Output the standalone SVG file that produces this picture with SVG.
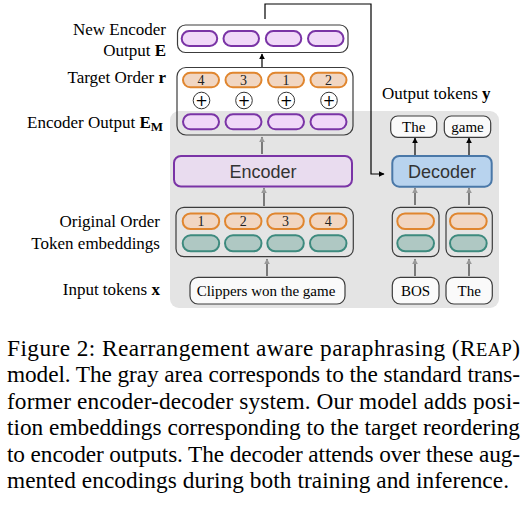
<svg xmlns="http://www.w3.org/2000/svg" width="526" height="506" viewBox="0 0 526 506">
<style>
.lbl{font-family:"Liberation Serif","Times New Roman",serif;font-size:17px;fill:#000}
.cap{font-family:"Liberation Serif","Times New Roman",serif;font-size:23.3px;fill:#000}
.tok{font-family:"Liberation Serif","Times New Roman",serif;font-size:15px;fill:#000;text-anchor:middle}
.num{font-family:"Liberation Serif","Times New Roman",serif;font-size:14px;fill:#222;text-anchor:middle}
.pl{font-family:"DejaVu Sans",sans-serif;font-size:15px;fill:#000;text-anchor:middle}
.blk{font-family:"Liberation Sans",Arial,sans-serif;font-size:18px;fill:#333;text-anchor:middle}
.cont{fill:none;stroke:#3c3c3c;stroke-width:1.2}
.tbox{fill:#fafafa;stroke:#3c3c3c;stroke-width:1.2}
.pur{fill:#f0d8f8;stroke:#7a34a6;stroke-width:2}
.ora{fill:#f1d6c2;stroke:#e0862f;stroke-width:2}
.tea{fill:#afc8c3;stroke:#3d8a7e;stroke-width:2}
.plus{fill:#fff;stroke:#333;stroke-width:1}
.ab{stroke:#000;stroke-width:1.2;fill:none;marker-end:url(#hb)}
.ag{stroke:#333;stroke-width:1.2;fill:none;marker-end:url(#hg)}
</style>
<defs>
<marker id="hb" viewBox="0 0 10 10" refX="9" refY="5" markerWidth="6" markerHeight="6" markerUnits="userSpaceOnUse" orient="auto"><path d="M0,0 L10,5 L0,10 z" fill="#000"/></marker>
<marker id="hg" viewBox="0 0 10 10" refX="9" refY="5" markerWidth="6" markerHeight="6" markerUnits="userSpaceOnUse" orient="auto"><path d="M0,0 L10,5 L0,10 z" fill="#999"/></marker>
</defs>

<rect id="gray-area" x="170" y="111" width="329" height="197" rx="9" fill="#e4e4e4"/>

<g id="labels">
<text class="lbl" x="166" y="35" text-anchor="end">New Encoder</text>
<text class="lbl" x="166" y="56" text-anchor="end">Output <tspan font-weight="bold">E</tspan></text>
<text class="lbl" x="166" y="83" text-anchor="end">Target Order <tspan font-weight="bold">r</tspan></text>
<text class="lbl" x="163" y="128" text-anchor="end">Encoder Output <tspan font-weight="bold">E</tspan><tspan font-weight="bold" font-size="13" dy="3">M</tspan></text>
<text class="lbl" x="160" y="227" text-anchor="end">Original Order</text>
<text class="lbl" x="160" y="249" text-anchor="end">Token embeddings</text>
<text class="lbl" x="160" y="295" text-anchor="end">Input tokens <tspan font-weight="bold">x</tspan></text>
<text class="lbl" x="382" y="99">Output tokens <tspan font-weight="bold">y</tspan></text>
</g>

<g id="connectors">
<polyline class="ab" points="265,19 265,4 371,4 371,174 384,174"/>
<line class="ab" x1="262" y1="67" x2="262" y2="54"/>
<line class="ag" x1="262" y1="154" x2="262" y2="137"/>
<line class="ag" x1="264" y1="206" x2="264" y2="188"/>
<line class="ag" x1="267" y1="276" x2="267" y2="259"/>
<line class="ab" x1="415" y1="155" x2="415" y2="138"/>
<line class="ab" x1="469" y1="155" x2="469" y2="138"/>
<line class="ag" x1="415" y1="205" x2="415" y2="188"/>
<line class="ag" x1="469" y1="205" x2="469" y2="188"/>
<line class="ag" x1="415" y1="276" x2="415" y2="259"/>
<line class="ag" x1="469" y1="276" x2="469" y2="259"/>
</g>

<g id="new-encoder-output">
<rect class="cont" x="177.5" y="25" width="170.5" height="27.5" rx="8"/>
<rect class="pur" x="181.7" y="31" width="35.5" height="15" rx="7.5"/>
<rect class="pur" x="223.5" y="31" width="35.5" height="15" rx="7.5"/>
<rect class="pur" x="265.8" y="31" width="35.5" height="15" rx="7.5"/>
<rect class="pur" x="308" y="31" width="35.5" height="15" rx="7.5"/>
</g>

<g id="target-order">
<rect class="cont" x="177" y="67.5" width="176" height="67.5" rx="9"/>
<rect class="ora" x="183" y="72.7" width="36" height="14.6" rx="7.3"/>
<rect class="ora" x="225.5" y="72.7" width="36" height="14.6" rx="7.3"/>
<rect class="ora" x="268" y="72.7" width="36" height="14.6" rx="7.3"/>
<rect class="ora" x="310.5" y="72.7" width="36" height="14.6" rx="7.3"/>
<text class="num" x="201" y="85">4</text>
<text class="num" x="243.5" y="85">3</text>
<text class="num" x="286" y="85">1</text>
<text class="num" x="328.5" y="85">2</text>
<g id="plus-signs">
<circle class="plus" cx="201.5" cy="100.5" r="8.3"/>
<circle class="plus" cx="244" cy="100.5" r="8.3"/>
<circle class="plus" cx="286.3" cy="100.5" r="8.3"/>
<circle class="plus" cx="329" cy="100.5" r="8.3"/>
<text class="pl" x="201.5" y="105.8">+</text>
<text class="pl" x="244" y="105.8">+</text>
<text class="pl" x="286.3" y="105.8">+</text>
<text class="pl" x="329" y="105.8">+</text>
</g>
<rect class="pur" x="183" y="114.3" width="36" height="15" rx="7.5"/>
<rect class="pur" x="225.5" y="114.3" width="36" height="15" rx="7.5"/>
<rect class="pur" x="268" y="114.3" width="36" height="15" rx="7.5"/>
<rect class="pur" x="310.5" y="114.3" width="36" height="15" rx="7.5"/>
</g>

<g id="encoder">
<rect x="174" y="156" width="178" height="30.5" rx="7" fill="#e9dcef" stroke="#7a34a6" stroke-width="2"/>
<text class="blk" x="263" y="177.5">Encoder</text>
</g>

<g id="original-order">
<rect class="cont" x="176" y="207.3" width="177.3" height="49.4" rx="8"/>
<rect class="ora" x="182.7" y="213.5" width="36.5" height="15.5" rx="7.7"/>
<rect class="ora" x="225" y="213.5" width="36.5" height="15.5" rx="7.7"/>
<rect class="ora" x="267.3" y="213.5" width="36.5" height="15.5" rx="7.7"/>
<rect class="ora" x="310" y="213.5" width="36.5" height="15.5" rx="7.7"/>
<text class="num" x="201" y="226">1</text>
<text class="num" x="243.3" y="226">2</text>
<text class="num" x="285.5" y="226">3</text>
<text class="num" x="328.2" y="226">4</text>
<rect class="tea" x="182.7" y="235.3" width="36.5" height="16" rx="8"/>
<rect class="tea" x="225" y="235.3" width="36.5" height="16" rx="8"/>
<rect class="tea" x="267.3" y="235.3" width="36.5" height="16" rx="8"/>
<rect class="tea" x="310" y="235.3" width="36.5" height="16" rx="8"/>
</g>

<g id="input-tokens">
<rect class="tbox" x="190" y="277.3" width="155" height="26.7" rx="8"/>
<text class="tok" x="266" y="296">Clippers won the game</text>
</g>

<g id="decoder">
<rect x="392.3" y="156" width="99.4" height="30.7" rx="7" fill="#b8d3ee" stroke="#4a78a8" stroke-width="2"/>
<text class="blk" x="442" y="177.5">Decoder</text>
</g>

<g id="output-the">
<rect class="tbox" x="390.7" y="116" width="46" height="21.3" rx="7" fill="#fff"/>
<text class="tok" x="413.7" y="131.5">The</text>
</g>
<g id="output-game">
<rect class="tbox" x="444.3" y="116" width="46.4" height="21.3" rx="7" fill="#fff"/>
<text class="tok" x="467.5" y="131.5">game</text>
</g>

<g id="dec-emb-1">
<rect class="cont" x="392.3" y="207.3" width="46.7" height="49.4" rx="8"/>
<rect class="ora" x="397.3" y="213.5" width="36.7" height="15.5" rx="7.7"/>
<rect class="tea" x="397.3" y="235.3" width="36.7" height="16" rx="8"/>
</g>
<g id="dec-emb-2">
<rect class="cont" x="446" y="207.3" width="46.3" height="49.4" rx="8"/>
<rect class="ora" x="450" y="213.5" width="36.7" height="15.5" rx="7.7"/>
<rect class="tea" x="450" y="235.3" width="36.7" height="16" rx="8"/>
</g>

<g id="dec-input-bos">
<rect class="tbox" x="392.3" y="277.3" width="46.7" height="26.7" rx="8"/>
<text class="tok" x="415.6" y="296">BOS</text>
</g>
<g id="dec-input-the">
<rect class="tbox" x="446" y="277.3" width="46.3" height="26.7" rx="8"/>
<text class="tok" x="469.2" y="296">The</text>
</g>

<g id="caption">
<text class="cap" x="7" y="356" textLength="513" lengthAdjust="spacing">Figure 2:  Rearrangement aware paraphrasing (R<tspan font-size="18.5">EAP</tspan>)</text>
<text class="cap" x="7" y="382.4" textLength="513" lengthAdjust="spacing">model. The gray area corresponds to the standard trans-</text>
<text class="cap" x="7" y="408.8" textLength="513" lengthAdjust="spacing">former encoder-decoder system. Our model adds posi-</text>
<text class="cap" x="7" y="435.2" textLength="513" lengthAdjust="spacing">tion embeddings corresponding to the target reordering</text>
<text class="cap" x="7" y="461.6" textLength="513" lengthAdjust="spacing">to encoder outputs. The decoder attends over these aug-</text>
<text class="cap" x="7" y="488" textLength="502" lengthAdjust="spacing">mented encodings during both training and inference.</text>
</g>
</svg>
